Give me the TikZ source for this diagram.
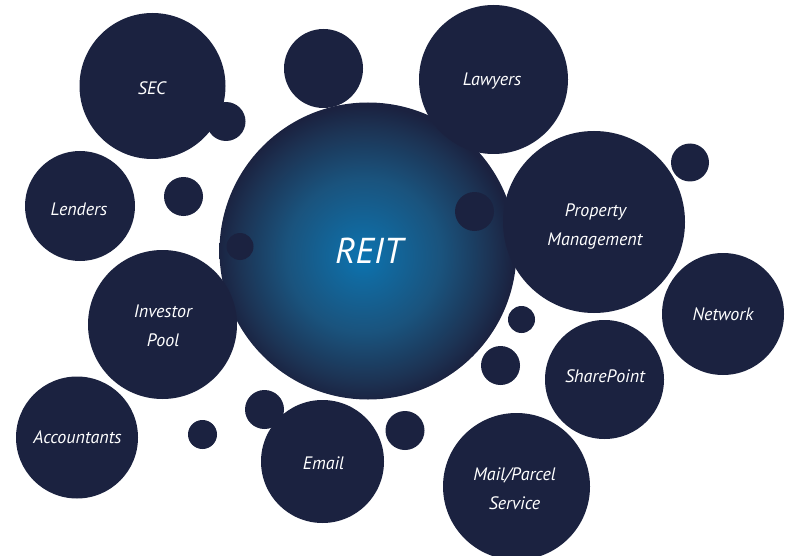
\documentclass[tikz,border=0pt]{standalone}
\usepackage{fontspec}
\setmainfont{PT Sans}
\definecolor{navy}{HTML}{1B2240}
\definecolor{glowA}{HTML}{0B74B1}
\definecolor{glowB}{HTML}{11699F}
\definecolor{glowC}{HTML}{1A537D}
\definecolor{glowD}{HTML}{1C3455}
\pgfdeclareradialshading{reitglow}{\pgfpoint{-1bp}{-1bp}}{color(0bp)=(glowA); color(4bp)=(glowB); color(13bp)=(glowC); color(21bp)=(glowD); color(25bp)=(navy); color(50bp)=(navy)}
\tikzset{
  dot/.style={circle, fill=navy, draw=none, inner sep=0pt},
  lbl/.style={anchor=base, inner sep=0pt, text=white,
    font=\fontsize{18}{29}\selectfont\itshape}
}
\begin{document}
\begin{tikzpicture}[x=1pt,y=-1pt]
\useasboundingbox (0,0) rectangle (789,556);
% top middle circle
\node[dot, minimum size=79] (top) at (323.5,68.5) {};
% central circle
\node[circle, inner sep=0pt, minimum size=297, shading=reitglow] (reit) at (368,251) {};
\node[lbl, font=\fontsize{36}{40}\selectfont\itshape] (reitT) at (369,263.3) {REIT};
% small dots on REIT
\node[dot, minimum size=27] (d1) at (240,246.5) {};
\node[dot, minimum size=39] (d2) at (474.5,211.5) {};
% bubbles
\node[dot, minimum size=146] (sec) at (152.5,86) {};
\node[dot, minimum size=39] (d3) at (226,121.5) {};
\node[dot, minimum size=110] (lenders) at (80,206) {};
\node[dot, minimum size=39] (d4) at (183.5,196.5) {};
\node[dot, minimum size=149] (lawyers) at (493.5,79.5) {};
\node[dot, minimum size=182] (pm) at (594,222) {};
\node[dot, minimum size=38] (d5) at (690,162.5) {};
\node[dot, minimum size=122] (network) at (723,314) {};
\node[dot, minimum size=149] (investor) at (162.5,324.5) {};
\node[dot, minimum size=27] (d6) at (521.5,319.5) {};
\node[dot, minimum size=39] (d7) at (500.5,365.5) {};
\node[dot, minimum size=119] (sharepoint) at (604.5,379.5) {};
\node[dot, minimum size=122] (accountants) at (77,437.5) {};
\node[dot, minimum size=29] (d8) at (202.5,434.5) {};
\node[dot, minimum size=39] (d9) at (264.5,409.5) {};
\node[dot, minimum size=123] (email) at (322.5,461.5) {};
\node[dot, minimum size=39] (d10) at (405,430.5) {};
\node[dot, minimum size=147] (mail) at (516.5,486.5) {};
% labels
\node[lbl] (secT) at (152,94.3) {SEC};
\node[lbl] (lendersT) at (79,215) {Lenders};
\node[lbl] (lawyersT) at (492,86) {Lawyers};
\node[lbl] (pmT1) at (595.5,216.7) {Property};
\node[lbl] (pmT2) at (595,245) {Management};
\node[lbl] (investorT1) at (163,317.7) {Investor};
\node[lbl] (investorT2) at (163,346.7) {Pool};
\node[lbl] (networkT) at (723,320.3) {Network};
\node[lbl] (sharepointT) at (605,382.7) {SharePoint};
\node[lbl] (accountantsT) at (77.5,443.7) {Accountants};
\node[lbl] (emailT) at (323.5,469.3) {Email};
\node[lbl] (mailT1) at (514.5,480) {Mail/Parcel};
\node[lbl] (mailT2) at (514.5,509.3) {Service};
\end{tikzpicture}
\end{document}
